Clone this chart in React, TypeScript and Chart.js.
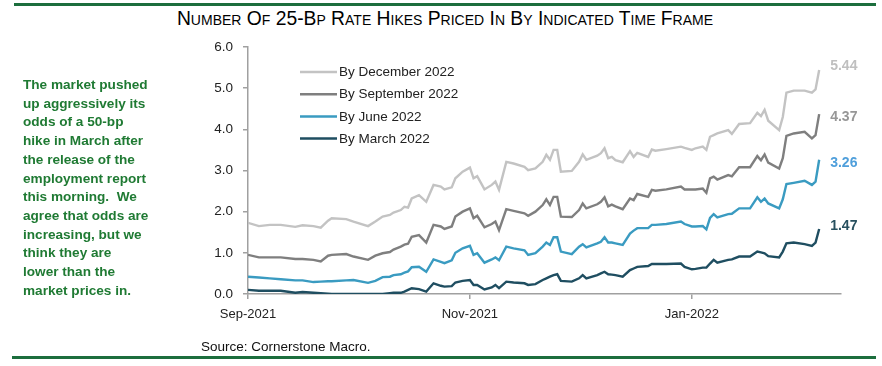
import React, { useEffect, useRef } from 'react';
import { Chart, registerables } from 'chart.js';

Chart.register(...registerables);

// Days since 2021-09-01
const dayOffsets = [
  0, 3, 6, 9, 13, 15, 18, 20, 22, 23, 27, 29, 33, 35, 37, 39, 40, 42, 43, 44, 45, 47, 49, 51, 53, 54, 56, 57, 59, 61,
  62, 63, 65, 67, 68, 69, 71, 73, 76, 77, 79, 81, 82, 83, 84, 85, 86, 89, 91, 92, 93, 96, 97, 98, 99, 100, 101, 103,
  105, 106, 107, 110, 111, 112, 115, 119, 120, 122, 123, 125, 126, 127, 128, 129, 132, 133, 135, 138, 140, 141, 142,
  143, 146, 147, 148, 150, 153, 155, 156, 157,
];

const byDecember2022 = [
  1.73, 1.65, 1.68, 1.68, 1.63, 1.67, 1.65, 1.61, 1.78, 1.84, 1.82, 1.76, 1.65, 1.76, 1.88, 1.92, 1.98, 2.04, 2.12, 2.1,
  2.32, 2.4, 2.24, 2.65, 2.61, 2.54, 2.59, 2.81, 2.97, 3.07, 2.81, 2.86, 2.54, 2.65, 2.73, 2.53, 3.21, 3.17, 3.09, 3.01,
  3.05, 3.21, 3.38, 3.26, 3.5, 3.5, 2.97, 2.99, 3.21, 3.39, 3.26, 3.36, 3.42, 3.54, 3.3, 3.33, 3.25, 3.2, 3.47, 3.33,
  3.43, 3.33, 3.51, 3.48, 3.52, 3.58, 3.55, 3.5, 3.54, 3.58, 3.5, 3.82, 3.86, 3.9, 3.98, 3.89, 4.13, 4.15, 4.4, 4.32,
  4.47, 4.21, 3.98, 4.3, 4.89, 4.94, 4.94, 4.89, 4.97, 5.44,
];

const bySeptember2022 = [
  0.95, 0.89, 0.89, 0.89, 0.85, 0.85, 0.83, 0.79, 0.93, 0.95, 0.97, 0.91, 0.83, 0.93, 0.99, 1.02, 1.08, 1.15, 1.2, 1.22,
  1.39, 1.43, 1.25, 1.68, 1.64, 1.58, 1.64, 1.88, 2.0, 2.08, 1.84, 1.9, 1.62, 1.7, 1.76, 1.55, 2.06, 2.02, 1.96, 1.9,
  2.0, 2.16, 2.3, 2.16, 2.36, 2.36, 1.88, 1.87, 2.04, 2.2, 2.08, 2.18, 2.24, 2.35, 2.13, 2.17, 2.13, 2.06, 2.32, 2.28,
  2.43, 2.36, 2.53, 2.51, 2.54, 2.61, 2.54, 2.54, 2.54, 2.56, 2.46, 2.81, 2.85, 2.78, 2.89, 2.86, 3.08, 3.08, 3.35,
  3.25, 3.39, 3.19, 3.05, 3.3, 3.84, 3.9, 3.94, 3.78, 3.86, 4.37,
];

const byJune2022 = [
  0.42, 0.4, 0.38, 0.36, 0.33, 0.33, 0.29, 0.3, 0.31, 0.31, 0.33, 0.34, 0.27, 0.32, 0.41, 0.42, 0.46, 0.48, 0.52, 0.55,
  0.65, 0.66, 0.54, 0.84, 0.78, 0.75, 0.82, 1.0, 1.11, 1.17, 0.95, 0.99, 0.76, 0.84, 0.89, 0.82, 1.15, 1.11, 1.06, 0.95,
  0.99, 1.15, 1.25, 1.19, 1.38, 1.38, 1.03, 0.97, 1.15, 1.21, 1.13, 1.23, 1.27, 1.38, 1.25, 1.25, 1.23, 1.19, 1.47,
  1.54, 1.6, 1.6, 1.68, 1.68, 1.7, 1.76, 1.7, 1.64, 1.64, 1.65, 1.57, 1.85, 1.94, 1.86, 1.94, 1.95, 2.08, 2.08, 2.35,
  2.24, 2.32, 2.2, 2.08, 2.3, 2.67, 2.7, 2.75, 2.65, 2.73, 3.26,
];

const byMarch2022 = [
  0.1, 0.08, 0.08, 0.08, 0.03, 0.05, 0.03, 0.02, 0.01, 0.0, 0.0, 0.0, 0.0, 0.0, 0.0, 0.02, 0.03, 0.03, 0.06, 0.1, 0.14,
  0.12, 0.06, 0.26, 0.2, 0.18, 0.19, 0.28, 0.32, 0.34, 0.22, 0.22, 0.11, 0.16, 0.22, 0.14, 0.3, 0.28, 0.26, 0.22, 0.24,
  0.34, 0.38, 0.42, 0.46, 0.48, 0.32, 0.3, 0.38, 0.46, 0.38, 0.46, 0.5, 0.54, 0.48, 0.47, 0.46, 0.42, 0.58, 0.62, 0.66,
  0.68, 0.73, 0.73, 0.73, 0.74, 0.66, 0.6, 0.61, 0.64, 0.64, 0.74, 0.83, 0.76, 0.83, 0.84, 0.91, 0.91, 1.03, 1.01,
  0.99, 0.92, 0.89, 1.03, 1.23, 1.25, 1.21, 1.17, 1.25, 1.58,
];

const seriesLabels = ['By December 2022', 'By September 2022', 'By June 2022', 'By March 2022'];
const endLabels = ['5.44', '4.37', '3.26', '1.47'];
const xTickDays = [0, 61, 122];
const xTickLabels = ['Sep-2021', 'Nov-2021', 'Jan-2022'];
const yTickValues = [0, 1, 2, 3, 4, 5, 6];

const lineColors = ['#c3c3c3', '#7f7f7f', '#3a9bc1', '#1f4e61'];
const endLabelColors = ['#bfbfbf', '#979797', '#4f9fdb', '#27505f'];
const endLabelOffsets = [-4, 3, 3, -3];

const noteLines = [
  'The market pushed',
  'up aggressively its',
  'odds of a 50-bp',
  'hike in March after',
  'the release of the',
  'employment report',
  'this morning.  We',
  'agree that odds are',
  'increasing, but we',
  'think they are',
  'lower than the',
  'market prices in.',
];

const legendPlugin = {
  id: 'customLegend',
  afterDraw(chart: any) {
    const ctx = chart.ctx;
    ctx.save();
    ctx.font = '13.5px "Liberation Sans", Arial, sans-serif';
    ctx.textBaseline = 'middle';
    ctx.textAlign = 'left';
    chart.data.datasets.forEach((ds: any, i: number) => {
      const y = 72 + i * 22.2;
      ctx.strokeStyle = ds.borderColor;
      ctx.lineWidth = 2.5;
      ctx.beginPath();
      ctx.moveTo(300, y);
      ctx.lineTo(337, y);
      ctx.stroke();
      ctx.fillStyle = '#222';
      ctx.fillText(ds.label, 339, y + 0.5);
    });
    ctx.restore();
  },
};

const endLabelPlugin = {
  id: 'endLabels',
  afterDatasetsDraw(chart: any) {
    const ctx = chart.ctx;
    ctx.save();
    ctx.font = 'bold 14px "Liberation Sans", Arial, sans-serif';
    ctx.textBaseline = 'middle';
    ctx.textAlign = 'left';
    chart.data.datasets.forEach((_ds: any, i: number) => {
      const meta = chart.getDatasetMeta(i);
      const pt = meta.data[meta.data.length - 1];
      ctx.fillStyle = endLabelColors[i];
      ctx.fillText(endLabels[i], pt.x + 11, pt.y + endLabelOffsets[i]);
    });
    ctx.restore();
  },
};

function ChartCanvas() {
  const ref = useRef<HTMLCanvasElement>(null);
  useEffect(() => {
    if (!ref.current) return;
    const series = [byDecember2022, bySeptember2022, byJune2022, byMarch2022];
    const chart = new Chart(ref.current, {
      type: 'line',
      data: {
        datasets: series.map((vals, i) => ({
          label: seriesLabels[i],
          data: vals.map((v, j) => ({ x: dayOffsets[j], y: v })),
          borderColor: lineColors[i],
          backgroundColor: lineColors[i],
          borderWidth: 2.4,
          pointRadius: 0,
          tension: 0,
          fill: false,
        })),
      },
      options: {
        responsive: false,
        animation: false,
        events: [],
        layout: { padding: { left: 0, top: 47, right: 41, bottom: 0 } },
        plugins: { legend: { display: false }, tooltip: { enabled: false }, title: { display: false } },
        scales: {
          x: {
            type: 'linear',
            min: 0,
            max: 163,
            afterFit(scale: any) {
              scale.height = 72;
            },
            afterBuildTicks(scale: any) {
              scale.ticks = xTickDays.map((v) => ({ value: v }));
            },
            ticks: {
              autoSkip: false,
              maxRotation: 0,
              padding: 8,
              color: '#222',
              font: { family: '"Liberation Sans", Arial, sans-serif', size: 13 },
              callback: (value: any) => {
                const idx = xTickDays.indexOf(value);
                return idx >= 0 ? xTickLabels[idx] : '';
              },
            },
            grid: { drawOnChartArea: false, drawTicks: true, tickLength: 5, color: '#a0a0a0', lineWidth: 1.5 },
            border: { display: true, color: '#a0a0a0', width: 1.5 },
          },
          y: {
            min: 0,
            max: 6,
            afterFit(scale: any) {
              scale.width = 248;
            },
            afterBuildTicks(scale: any) {
              scale.ticks = yTickValues.map((v) => ({ value: v }));
            },
            ticks: {
              padding: 10,
              color: '#222',
              font: { family: '"Liberation Sans", Arial, sans-serif', size: 13.5 },
              callback: (value: any) => Number(value).toFixed(1),
            },
            grid: { drawOnChartArea: false, drawTicks: true, tickLength: 5, color: '#a0a0a0', lineWidth: 1.5 },
            border: { display: true, color: '#a0a0a0', width: 1.5 },
          },
        },
      },
      plugins: [legendPlugin, endLabelPlugin],
    });
    return () => chart.destroy();
  }, []);
  return (
    <canvas
      ref={ref}
      width={882}
      height={366}
      style={{ position: 'absolute', left: 0, top: 0, width: 882, height: 366 }}
    />
  );
}

export default function App() {
  const green = '#1c6e3d';
  return (
    <div
      style={{
        position: 'absolute',
        left: 0,
        top: 0,
        width: 882,
        height: 366,
        background: '#ffffff',
        overflow: 'hidden',
        fontFamily: '"Liberation Sans", Arial, sans-serif',
      }}
    >
      <div style={{ position: 'absolute', left: 14, top: 3, width: 862, height: 3, background: green }} />
      <div
        style={{
          position: 'absolute',
          left: 445,
          top: 8,
          transform: 'translateX(-50%)',
          whiteSpace: 'nowrap',
          fontSize: 19.3,
          lineHeight: '22px',
          fontVariant: 'small-caps',
          color: '#000',
        }}
      >
        Number Of 25-Bp Rate Hikes Priced In By Indicated Time Frame
      </div>
      <ChartCanvas />
      <div
        style={{
          position: 'absolute',
          left: 23,
          top: 76,
          fontSize: 13.6,
          fontWeight: 'bold',
          lineHeight: '18.7px',
          color: '#1f7a33',
          whiteSpace: 'pre',
        }}
      >
        {noteLines.join('\n')}
      </div>
      <div style={{ position: 'absolute', left: 201, top: 339, fontSize: 13.5, color: '#111', whiteSpace: 'nowrap' }}>
        Source: Cornerstone Macro.
      </div>
      <div style={{ position: 'absolute', left: 12, top: 356, width: 864, height: 3, background: green }} />
    </div>
  );
}
